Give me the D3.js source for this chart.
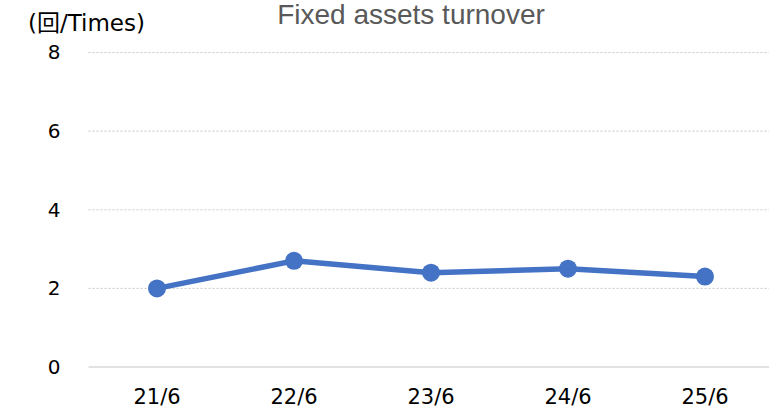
<!DOCTYPE html>
<html>
<head>
<meta charset="utf-8">
<script src="https://cdn.jsdelivr.net/npm/d3@7"></script>
<style>
  body { margin: 0; background: #fff; }
  svg { display: block; }
</style>
</head>
<body>
<div id="chart"></div>
<script>
// data
const categories = ["21/6", "22/6", "23/6", "24/6", "25/6"];
const turnover = [2.0, 2.7, 2.4, 2.5, 2.3];
const yTicks = [0, 2, 4, 6, 8];

const W = 769, H = 409;
const plot = { left: 88.5, right: 773.5, top: 52.5, bottom: 367 };

const svg = d3.select("#chart")
    .append("svg")
    .attr("width", W)
    .attr("height", H);

const x = d3.scaleBand()
    .domain(categories)
    .range([plot.left, plot.right]);

const y = d3.scaleLinear()
    .domain([0, 8])
    .range([plot.bottom, plot.top]);

// gridlines (dotted)
svg.append("g")
    .selectAll("line")
    .data(yTicks.filter(d => d > 0))
    .enter()
    .append("line")
    .attr("x1", plot.left)
    .attr("x2", plot.right)
    .attr("y1", d => y(d))
    .attr("y2", d => y(d))
    .style("stroke", "#c8c8c8")
    .style("stroke-width", 1)
    .style("stroke-dasharray", "2,2");

// bottom axis line
svg.append("line")
    .attr("x1", plot.left)
    .attr("x2", plot.right)
    .attr("y1", y(0))
    .attr("y2", y(0))
    .style("stroke", "#d9d9d9")
    .style("stroke-width", 1.5);

// y tick labels
const yAxis = svg.append("g")
    .attr("transform", `translate(${plot.left - 28},0)`)
    .call(d3.axisLeft(y).tickValues(yTicks).tickSize(0).tickPadding(0));
yAxis.select(".domain").remove();
yAxis.selectAll("text")
    .style("font-family", "'DejaVu Sans', Verdana, sans-serif")
    .style("font-size", "20px")
    .style("fill", "#000");

// x tick labels
const xAxis = svg.append("g")
    .attr("transform", `translate(0,${plot.bottom})`)
    .call(d3.axisBottom(x).tickSize(0).tickPadding(22));
xAxis.select(".domain").remove();
xAxis.selectAll("text")
    .style("font-family", "'DejaVu Sans', Verdana, sans-serif")
    .style("font-size", "21px")
    .style("fill", "#000");

// the line
const line = d3.line()
    .x((d, i) => x(categories[i]) + x.bandwidth() / 2)
    .y(d => y(d));

svg.append("path")
    .datum(turnover)
    .attr("d", line)
    .style("fill", "none")
    .style("stroke", "#4472C4")
    .style("stroke-width", 5.5)
    .style("stroke-linejoin", "round");

svg.selectAll(".dot")
    .data(turnover)
    .enter()
    .append("circle")
    .attr("class", "dot")
    .attr("cx", (d, i) => x(categories[i]) + x.bandwidth() / 2)
    .attr("cy", d => y(d))
    .attr("r", 9)
    .style("fill", "#4472C4");

// title + unit label
svg.append("text")
    .attr("x", 411)
    .attr("y", 24)
    .attr("text-anchor", "middle")
    .style("font-family", "'Liberation Sans', Arial, sans-serif")
    .style("font-size", "28px")
    .style("fill", "#595959")
    .text("Fixed assets turnover");

svg.append("text")
    .attr("x", 28)
    .attr("y", 31)
    .style("font-family", "'DejaVu Sans', 'Noto Sans CJK JP', sans-serif")
    .style("font-size", "23px")
    .style("fill", "#000")
    .text("(回/Times)");
</script>
</body>
</html>
